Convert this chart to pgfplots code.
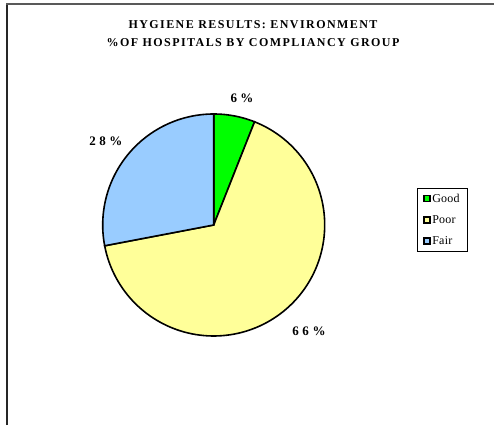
\documentclass[border=0pt]{standalone}
\usepackage{fontspec}
\setmainfont{Liberation Serif}
\newfontfamily\titlefont[LetterSpace=12]{Liberation Serif}
\newfontfamily\labelfont[LetterSpace=27]{Liberation Serif}
\newfontfamily\legfont[LetterSpace=2]{Liberation Serif}
\usepackage{pgfplots}
\usepackage{pgfplotstable}
\pgfplotsset{compat=1.18}
\definecolor{goodc}{HTML}{00FF00}
\definecolor{poorc}{HTML}{FFFF99}
\definecolor{fairc}{HTML}{99CCFF}
\pgfplotstableread{
label value
Good 6
Poor 66
Fair 28
}\piedata
\begin{document}
\begin{tikzpicture}
\pgfplotstablegetelem{0}{value}\of\piedata \let\vGood\pgfplotsretval
\pgfplotstablegetelem{1}{value}\of\piedata \let\vPoor\pgfplotsretval
\pgfplotstablegetelem{2}{value}\of\piedata \let\vFair\pgfplotsretval
\pgfmathsetmacro{\aA}{90}
\pgfmathsetmacro{\aB}{\aA-3.6*\vGood}
\pgfmathsetmacro{\aC}{\aB-3.6*\vPoor}
\pgfmathsetmacro{\aD}{\aC-3.6*\vFair}
\begin{axis}[
  at={(0,0)}, anchor=south west,
  scale only axis, width=494pt, height=425pt,
  xmin=0, xmax=494, ymin=0, ymax=425,
  hide axis, clip=false,
  legend style={at={(axis cs:417,237)}, anchor=north west, draw=black, line width=0.8pt,
    font=\legfont\fontsize{12}{14}\selectfont, row sep=8.8pt, inner xsep=5.8pt, inner ysep=3.8pt,
    nodes={inner sep=1.5pt}},
  legend cell align=left,
  legend image code/.code={\draw[#1, draw=black, line width=1.6pt] (0pt,-3pt) rectangle (6pt,3pt);},
]
\addplot[fill=goodc, draw=black, line width=1.6pt, domain=\aB:\aA, samples=30]
  ({213.7+111*cos(x)},{200+111*sin(x)}) -- (213.7,200) -- cycle;
\addlegendentry{Good}
\addplot[fill=poorc, draw=black, line width=1.6pt, domain=\aC:\aB, samples=120]
  ({213.7+111*cos(x)},{200+111*sin(x)}) -- (213.7,200) -- cycle;
\addlegendentry{Poor}
\addplot[fill=fairc, draw=black, line width=1.6pt, domain=\aD:\aC, samples=60]
  ({213.7+111*cos(x)},{200+111*sin(x)}) -- (213.7,200) -- cycle;
\addlegendentry{Fair}
\node[font=\labelfont\bfseries\fontsize{13}{15}\selectfont] at (axis cs:242,327) {\vGood\%};
\node[font=\labelfont\bfseries\fontsize{13}{15}\selectfont] at (axis cs:106,284) {\vFair\%};
\node[font=\labelfont\bfseries\fontsize{13}{15}\selectfont] at (axis cs:309,94) {\vPoor\%};
\node[font=\titlefont\bfseries\fontsize{12}{14}\selectfont] at (axis cs:253,400) {HYGIENE RESULTS: ENVIRONMENT};
\node[font=\titlefont\bfseries\fontsize{12}{14}\selectfont] at (axis cs:253,382) {\%OF HOSPITALS BY COMPLIANCY GROUP};
\draw[black!85, line width=1.6pt] (axis cs:7,0) -- (axis cs:7,421);
\draw[black!65, line width=1.3pt] (axis cs:6.2,421) -- (axis cs:494,421);
\end{axis}
\pgfresetboundingbox
\path[use as bounding box] (0,0) rectangle (494pt,425pt);
\end{tikzpicture}
\end{document}
